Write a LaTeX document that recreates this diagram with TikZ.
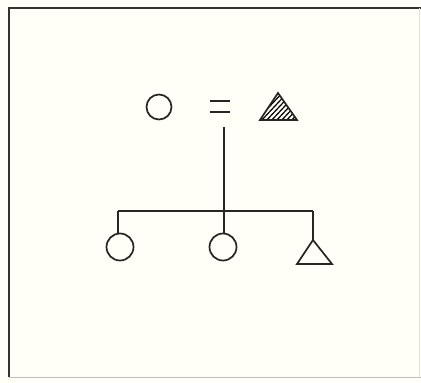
\documentclass[tikz,border=0pt]{standalone}
\begin{document}
\begin{tikzpicture}[x=1pt,y=-1pt,
  ink/.style={draw=black!85,line width=1.7pt},
  circ/.style={ink,circle,inner sep=0pt},
  frame/.style={line width=1.4pt,draw=black!80}]
\useasboundingbox (0,0) rectangle (421,383);
\fill[white!97!yellow] (0,0) rectangle (421,383);
% frame
\draw[frame] (9,377) -- (9,8) -- (421,8);
\draw[line width=1pt,draw=black!25] (9,377) -- (421,377);
\draw[line width=0.8pt,draw=black!12] (419,8) -- (419,377);
% parents
\node[circ,minimum size=25pt] (mother) at (159,107) {};
\draw[ink] (210,101) -- (230,101);
\draw[ink] (210,112) -- (230,112);
\coordinate (fa) at (278,93);
\coordinate (fb) at (297,120);
\coordinate (fc) at (260,120);
\begin{scope}
\clip (fa) -- (fb) -- (fc) -- cycle;
\foreach \i in {-40,-35,...,40} {
  \draw[line width=1.2pt] (260+\i,122) -- (290+\i,90);
}
\end{scope}
\draw[ink,line join=miter] (fa) -- (fb) -- (fc) -- cycle;
% descent line
\coordinate (stemtop) at (224,127);
\coordinate (stembot) at (224,211);
\coordinate (barL) at (118,211);
\coordinate (barR) at (313,211);
\draw[ink] (stemtop) -- (stembot);
\draw[ink] (barL) -- (barR);
% children
\node[circ,minimum size=27pt] (c1) at (120,247) {};
\node[circ,minimum size=27pt] (c2) at (223,247) {};
\coordinate (sa) at (313,240);
\coordinate (sb) at (332,264);
\coordinate (sc) at (297,264);
\draw[ink,line join=miter] (sa) -- (sb) -- (sc) -- cycle;
\draw[ink] (barL) -- (barL |- c1.north);
\draw[ink] (stembot) -- (stembot |- c2.north);
\draw[ink] (barR) -- (sa);
\end{tikzpicture}
\end{document}
